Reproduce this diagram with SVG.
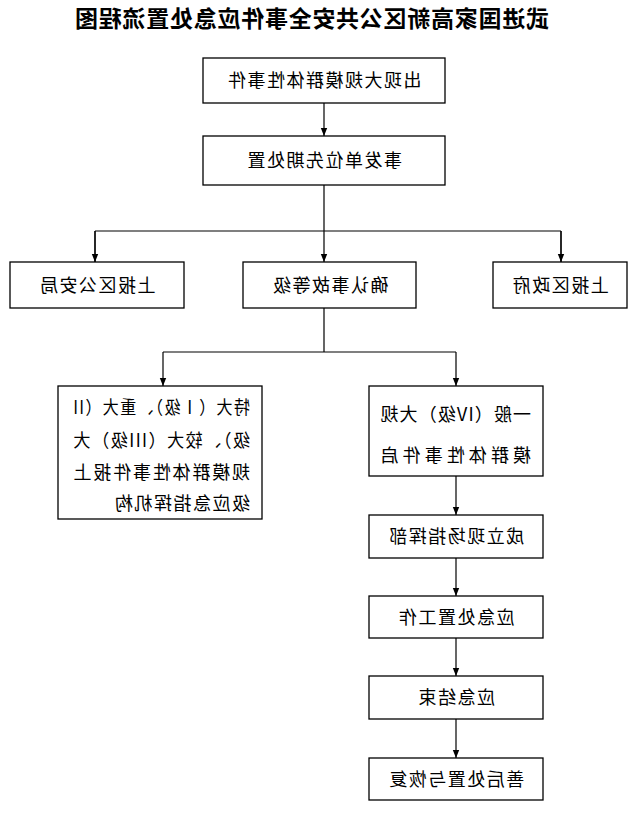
<svg xmlns="http://www.w3.org/2000/svg" width="642" height="817" viewBox="0 0 642 817">
<style>
rect{fill:#fff;stroke:#000;stroke-width:1.3}
text{font-family:"Noto Sans CJK SC","Liberation Serif",serif;font-size:18px;letter-spacing:1.5px;fill:#000}
.c{text-anchor:middle}
.t{font-size:23px;font-weight:bold;letter-spacing:0}
.l{stroke:#000;stroke-width:1.2;fill:none}
</style>
<defs><marker id="a" viewBox="0 0 10 10" refX="10" refY="5" markerWidth="8" markerHeight="8" orient="auto" markerUnits="userSpaceOnUse"><path d="M0,1 L10,5 L0,9 z" fill="#000"/></marker></defs>
<rect x="0" y="0" width="642" height="817" style="stroke:none"/>
<g transform="matrix(-1 0 0 1 642 0)">
<text class="c t" x="330" y="27" textLength="474" lengthAdjust="spacing">武进国家高新区公共安全事件应急处置流程图</text>
<g id="connectors">
<path class="l" d="M318,103 V136" marker-end="url(#a)"/>
<path class="l" d="M318,185 V231 M81,231 H547 M81,231 V262 M547,231 V262 M318,231 V262" marker-end="url(#a)"/>
<path class="l" d="M81,231 V262" marker-end="url(#a)"/>
<path class="l" d="M547,231 V262" marker-end="url(#a)"/>
<path class="l" d="M318,308 V352 M186,352 H479 M186,352 V386" marker-end="url(#a)"/>
<path class="l" d="M479,352 V386" marker-end="url(#a)"/>
<path class="l" d="M186,476 V515" marker-end="url(#a)"/>
<path class="l" d="M186,558 V596" marker-end="url(#a)"/>
<path class="l" d="M186,638 V676" marker-end="url(#a)"/>
<path class="l" d="M186,719 V758" marker-end="url(#a)"/>
</g>
<g id="n1"><rect x="197" y="58" width="242" height="45"/><text class="c" x="318" y="87">出现大规模群体性事件</text></g>
<g id="n2"><rect x="197" y="136" width="242" height="49"/><text class="c" x="318" y="167">事发单位先期处置</text></g>
<g id="n3"><rect x="458" y="262" width="174" height="46"/><text class="c" x="545" y="292">上报区公安局</text></g>
<g id="n4"><rect x="226" y="262" width="173" height="46"/><text class="c" x="312" y="292">确认事故等级</text></g>
<g id="n5"><rect x="15" y="262" width="134" height="46"/><text class="c" x="82" y="292">上报区政府</text></g>
<g id="n6"><rect x="380" y="386" width="204" height="133"/>
<text x="392" y="414" textLength="178" lengthAdjust="spacingAndGlyphs">特大（Ⅰ级）、重大（II</text>
<text x="392" y="447" textLength="178" lengthAdjust="spacingAndGlyphs">级）、较大（III级）大</text>
<text x="392" y="479" textLength="178">规模群体性事件报上</text>
<text x="392" y="510">级应急指挥机构</text></g>
<g id="n7"><rect x="99" y="386" width="174" height="90"/>
<text x="111" y="421" textLength="152">一般（IV级）大规</text>
<text x="111" y="462" textLength="152">模群体性事件启</text></g>
<g id="n8"><rect x="99" y="515" width="174" height="43"/><text class="c" x="186" y="543">成立现场指挥部</text></g>
<g id="n9"><rect x="99" y="596" width="174" height="42"/><text class="c" x="186" y="624">应急处置工作</text></g>
<g id="n10"><rect x="99" y="676" width="174" height="43"/><text class="c" x="186" y="704">应急结束</text></g>
<g id="n11"><rect x="99" y="758" width="174" height="42"/><text class="c" x="186" y="786">善后处置与恢复</text></g>
</g>
</svg>
